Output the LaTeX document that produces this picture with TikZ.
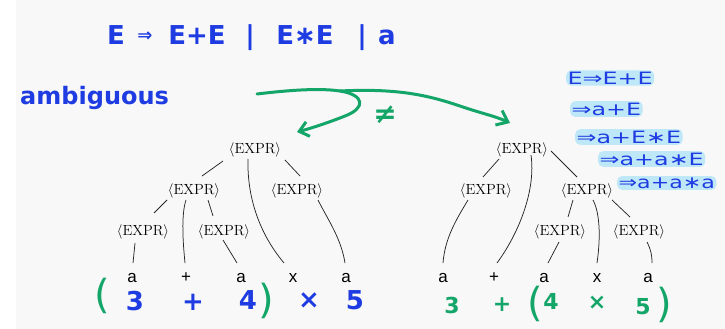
\documentclass[tikz,border=0pt]{standalone}
\usepackage{fontspec}
\usetikzlibrary{arrows.meta}
\newfontfamily\hand{DejaVu Sans}
\newfontfamily\leaffont{Liberation Sans}
\definecolor{hblue}{RGB}{30,60,225}
\definecolor{hgreen}{RGB}{20,165,105}
\definecolor{hilite}{RGB}{190,232,248}
\definecolor{paper}{RGB}{248,248,248}
\begin{document}
\begin{tikzpicture}[x=1pt,y=-1pt,
  expr/.style={anchor=base,inner sep=0pt,font=\fontsize{14.7}{16}\selectfont},
  leafnode/.style={anchor=base,inner sep=0pt,font=\leaffont\fontsize{17}{18}\selectfont},
  edge/.style={line width=0.75pt,black!85},
  titletext/.style={text=hblue,inner sep=0pt,font=\hand\bfseries\fontsize{26}{28}\selectfont},
  hw/.style={inner sep=0pt,font=\hand\bfseries\fontsize{26}{26}\selectfont},
  hwsmall/.style={inner sep=0pt,font=\hand\bfseries\fontsize{22}{22}\selectfont},
  paren/.style={inner sep=0pt,font=\hand\fontsize{40}{40}\selectfont},
  der/.style={text=hblue,anchor=west,fill=hilite,rounded corners=5pt,inner sep=1.5pt,font=\hand\fontsize{17}{17}\selectfont},
  gline/.style={hgreen,line width=3pt,line cap=round,line join=round},
]
\useasboundingbox (0,0) rectangle (725,329);
\fill[white] (0,0) rectangle (725,329);
\fill[paper] (16,0) rectangle (725,329);

% title
\node[titletext,anchor=base] (t1) at (116,45) {E};
\node[titletext,font=\hand\bfseries\fontsize{18}{18}\selectfont] (t2) at (145,37) {⇒};
\node[titletext,anchor=base] (t3) at (197,45) {E+E};
\node[titletext] (t4) at (250,38) {|};
\node[titletext,anchor=base] (t5) at (305,45) {E∗E};
\node[titletext] (t6) at (362,38) {|};
\node[titletext,anchor=base] (t7) at (387,45) {a};

% ambiguous
\node[titletext,anchor=base west,font=\hand\bfseries\fontsize{24}{24}\selectfont] (amb) at (20,104) {ambiguous};

% green arrows
\coordinate (g0) at (257,94);
\coordinate (gm) at (340,91);
\coordinate (gl) at (297,132);
\coordinate (gr) at (510,123);
\draw[gline] (g0) .. controls (290,90) and (320,88) .. (gm);
\draw[gline,-{Straight Barb[length=9pt,width=15pt]}] (gm) .. controls (365,95) and (366,108) .. (345,116) .. controls (330,122) and (312,128) .. (gl);
\draw[gline,-{Straight Barb[length=10pt,width=16pt]}] (gm) .. controls (400,88) and (430,96) .. (460,106) .. controls (480,113) and (495,116) .. (gr);
\node[text=hgreen,inner sep=0pt,font=\hand\bfseries\fontsize{28}{28}\selectfont] (ne) at (385,115) {≠};

% left tree
\node[expr] (L0) at (255,153) {$\langle$EXPR$\rangle$};
\node[expr] (L1) at (194,194) {$\langle$EXPR$\rangle$};
\node[expr] (L2) at (297,194) {$\langle$EXPR$\rangle$};
\node[expr] (L3) at (143,235) {$\langle$EXPR$\rangle$};
\node[expr] (L4) at (224,235) {$\langle$EXPR$\rangle$};
\node[leafnode] (la1) at (132,282) {a};
\node[leafnode] (lp) at (186,282) {+};
\node[leafnode] (la2) at (241,282) {a};
\node[leafnode] (lx) at (293,282) {x};
\node[leafnode] (la3) at (346,282) {a};

\draw[edge] ([shift={(-32,8)}]L0.base) -- ([shift={(8,-18)}]L1.base);
\draw[edge] ([shift={(-7,6)}]L0.base) .. controls +(-1,36) and +(-26,-31) .. ([shift={(-9,-19)}]lx.base);
\draw[edge] ([shift={(30,7)}]L0.base) -- ([shift={(3,-18)}]L2.base);
\draw[edge] ([shift={(21,6)}]L2.base) .. controls +(10,20) and +(-4,-25) .. ([shift={(-1,-19)}]la3.base);
\draw[edge] ([shift={(-27,6)}]L1.base) -- ([shift={(11,-22)}]L3.base);
\draw[edge] ([shift={(-8,6)}]L1.base) .. controls +(-5,15) and +(-2,-20) .. ([shift={(-1,-19)}]lp.base);
\draw[edge] ([shift={(14,6)}]L1.base) -- ([shift={(-11,-19)}]L4.base);
\draw[edge] ([shift={(-8,8)}]L3.base) -- ([shift={(1,-19)}]la1.base);
\draw[edge] ([shift={(-1,5)}]L4.base) -- ([shift={(-4,-19)}]la2.base);

% right tree
\node[expr] (R0) at (522,153) {$\langle$EXPR$\rangle$};
\node[expr] (R1) at (486,194) {$\langle$EXPR$\rangle$};
\node[expr] (R2) at (587,194) {$\langle$EXPR$\rangle$};
\node[expr] (R3) at (560,235) {$\langle$EXPR$\rangle$};
\node[expr] (R4) at (639,235) {$\langle$EXPR$\rangle$};
\node[leafnode] (ra1) at (443,282) {a};
\node[leafnode] (rp) at (494,282) {+};
\node[leafnode] (ra2) at (544,282) {a};
\node[leafnode] (rx) at (597,282) {x};
\node[leafnode] (ra3) at (648,282) {a};

\draw[edge] ([shift={(-23,6)}]R0.base) -- ([shift={(-3,-17)}]R1.base);
\draw[edge] ([shift={(9,2)}]R0.base) .. controls +(5,35) and +(22,-30) .. ([shift={(3,-19)}]rp.base);
\draw[edge] ([shift={(29,-2)}]R0.base) -- ([shift={(-10,-17)}]R2.base);
\draw[edge] ([shift={(-18,6)}]R1.base) .. controls +(-12,20) and +(2,-25) .. ([shift={(0,-19)}]ra1.base);
\draw[edge] ([shift={(-14,6)}]R2.base) -- ([shift={(8,-18)}]R3.base);
\draw[edge] ([shift={(6,6)}]R2.base) .. controls +(8,15) and +(3,-20) .. ([shift={(0,-19)}]rx.base);
\draw[edge] ([shift={(25,6)}]R2.base) -- ([shift={(-9,-18)}]R4.base);
\draw[edge] ([shift={(-1,7)}]R3.base) -- ([shift={(4,-19)}]ra2.base);
\draw[edge] ([shift={(8,7)}]R4.base) .. controls +(4,8) and +(0,-8) .. ([shift={(4,-19)}]ra3.base);

% handwritten left
\node[paren,text=hgreen] (lo) at (102,296) {(};
\node[hw,text=hblue] (h3) at (135,301) {3};
\node[hw,text=hblue] (hp) at (193,302) {+};
\node[hw,text=hblue] (h4) at (248,300) {4};
\node[paren,text=hgreen] (lc) at (266,301) {)};
\node[hw,text=hblue] (hx) at (309,301) {×};
\node[hw,text=hblue] (h5) at (355,300) {5};

% handwritten right
\node[hwsmall,text=hgreen] (g3) at (452,305) {3};
\node[hwsmall,text=hgreen] (gp) at (502,305) {+};
\node[paren,text=hgreen] (go) at (535,304) {(};
\node[hwsmall,text=hgreen] (g4) at (551,301) {4};
\node[hwsmall,text=hgreen] (gx) at (597,303) {×};
\node[hwsmall,text=hgreen] (g5) at (643,307) {5};
\node[paren,text=hgreen] (gc) at (664,305) {)};

% derivation
\node[der] (d1) at (566,78) {\scalebox{1.4}[1]{E⇒E+E}};
\node[der] (d2) at (570,109) {\scalebox{1.4}[1]{⇒a+E}};
\node[der] (d3) at (575,137) {\scalebox{1.4}[1]{⇒a+E∗E}};
\node[der] (d4) at (598,159) {\scalebox{1.4}[1]{⇒a+a∗E}};
\node[der] (d5) at (617,183) {\scalebox{1.3}[1]{⇒a+a∗a}};
\end{tikzpicture}
\end{document}
